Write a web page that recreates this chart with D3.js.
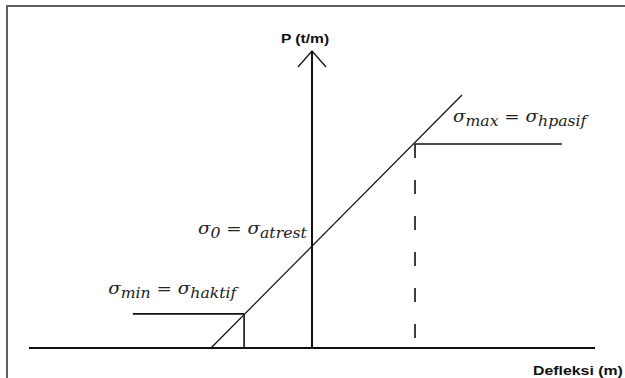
<!DOCTYPE html>
<html>
<head>
<meta charset="utf-8">
<title>Deflection diagram</title>
<style>
  body { margin: 0; background: #fff; }
  svg { display: block; }
  .axis-title { font-family: "Liberation Sans", Arial, sans-serif; font-weight: bold; font-size: 13px; fill: #111; }
  .math { font-family: "DejaVu Serif", serif; font-style: italic; font-size: 17px; fill: #222; }
</style>
</head>
<body>
<script src="https://cdn.jsdelivr.net/npm/d3@7/dist/d3.min.js"></script>
<script>
// axis extents (abstract units, origin where the axes cross)
var xExtent = [-10, 10];
var yExtent = [0, 10];

// straight line through the origin region
var lineX = [-3.57, 5.3];
var lineY = [0, 8.52];

// the two plateaus: min (active) and max (passive)
var minX = [-6.33, -2.4], minY = 1.15;
var maxX = [3.64, 8.83],  maxY = 6.87;

// labels: subscript of the left sigma, subscript of the right sigma
var labels = [
  {x: -7.2,  y: 1.82, b: "min",  c: "haktif"},
  {x: -4.03, y: 3.84, b: "0",    c: "atrest"},
  {x: 4.98,  y: 7.6,  b: "max",  c: "hpasif"}
];
var xTitle = "Defleksi (m)";
var yTitle = "P (t/m)";

var W = 625, H = 378;
var svg = d3.select("body").append("svg").attr("width", W).attr("height", H);

var x = d3.scaleLinear().domain(xExtent).range([29, 595]);
var y = d3.scaleLinear().domain(yExtent).range([348, 51]);

// frame (runs off the right and bottom edge)
svg.append("rect")
    .attr("x", 7).attr("y", 6)
    .attr("width", W + 10).attr("height", H + 10)
    .attr("fill", "none")
    .attr("stroke", "#5e5e5e")
    .attr("stroke-width", 2);

var g = svg.append("g").attr("stroke", "#111").attr("fill", "none");

// horizontal axis
g.append("line")
    .attr("x1", x(xExtent[0])).attr("x2", x(xExtent[1]))
    .attr("y1", y(0)).attr("y2", y(0))
    .attr("stroke-width", 2);

// vertical axis + open arrow head
g.append("line")
    .attr("x1", x(0)).attr("x2", x(0))
    .attr("y1", y(0)).attr("y2", y(yExtent[1]))
    .attr("stroke-width", 2);
g.append("path")
    .attr("d", "M" + (x(0) - 14) + "," + (y(yExtent[1]) + 16) +
               "L" + x(0) + "," + y(yExtent[1]) +
               "L" + (x(0) + 14) + "," + (y(yExtent[1]) + 16))
    .attr("stroke-width", 1.3);

// diagonal
g.append("line")
    .attr("x1", x(lineX[0])).attr("y1", y(lineY[0]))
    .attr("x2", x(lineX[1])).attr("y2", y(lineY[1]))
    .attr("stroke-width", 1.2);

// min plateau + its drop to the axis
g.append("line")
    .attr("x1", x(minX[0])).attr("x2", x(minX[1]))
    .attr("y1", y(minY)).attr("y2", y(minY))
    .attr("stroke-width", 1.6);
g.append("line")
    .attr("x1", x(minX[1])).attr("x2", x(minX[1]))
    .attr("y1", y(minY)).attr("y2", y(0))
    .attr("stroke-width", 1.6);

// max plateau + dashed drop
g.append("line")
    .attr("x1", x(maxX[0])).attr("x2", x(maxX[1]))
    .attr("y1", y(maxY)).attr("y2", y(maxY))
    .attr("stroke-width", 1.6);
g.append("line")
    .attr("x1", x(maxX[0])).attr("x2", x(maxX[0]))
    .attr("y1", y(maxY)).attr("y2", y(0))
    .attr("stroke-width", 1.6)
    .attr("stroke-dasharray", "14,22");

// sigma labels
labels.forEach(function(d) {
  var t = svg.append("text").attr("class", "math")
      .attr("transform", "translate(" + x(d.x) + "," + y(d.y) + ") scale(1.08,1)");
  t.append("tspan").text("\u03c3");
  t.append("tspan").attr("font-size", 14.5).attr("dy", 4).text(d.b);
  t.append("tspan").attr("font-style", "normal").attr("dy", -4).text(" = ");
  t.append("tspan").text("\u03c3");
  t.append("tspan").attr("font-size", 14.5).attr("dy", 4).text(d.c);
});

// axis titles
svg.append("text").attr("class", "axis-title")
    .attr("transform", "translate(305,43) scale(1.2,1)")
    .attr("text-anchor", "middle")
    .text(yTitle);
svg.append("text").attr("class", "axis-title")
    .attr("transform", "translate(533,375) scale(1.22,1)")
    .text(xTitle);
</script>
</body>
</html>
